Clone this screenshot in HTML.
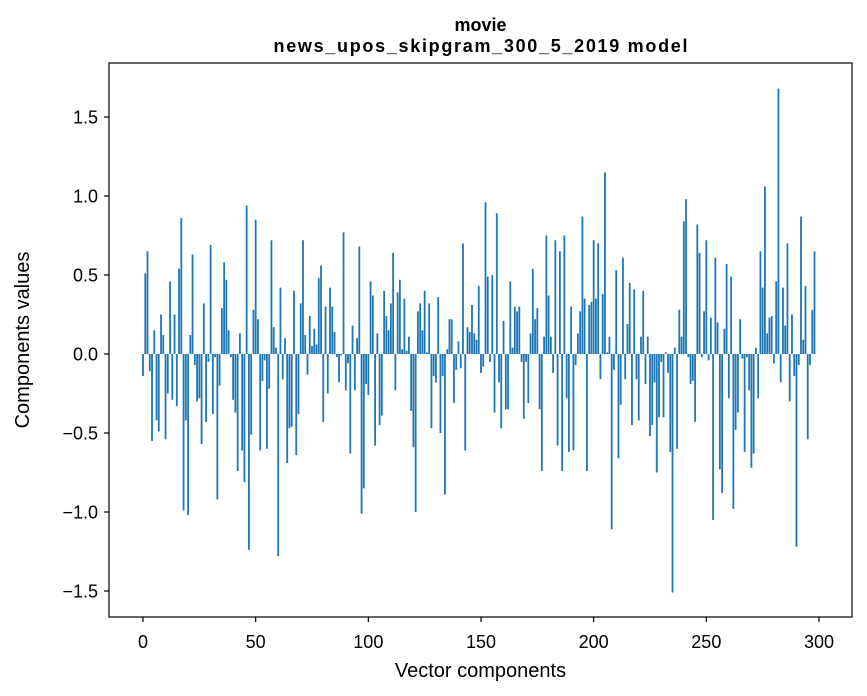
<!DOCTYPE html>
<html><head><meta charset="utf-8"><style>
html,body{margin:0;padding:0;background:#fff;}
svg{display:block;font-family:"Liberation Sans",sans-serif;}
</style></head><body>
<svg id="chart" width="867" height="696" viewBox="0 0 867 696">
<rect x="0" y="0" width="867" height="696" fill="#fff"/>
<text x="480.5" y="31" text-anchor="middle" font-size="18" font-weight="bold">movie</text>
<text x="480.5" y="52" text-anchor="middle" font-size="18" font-weight="bold" textLength="414" lengthAdjust="spacing">news_upos_skipgram_300_5_2019 model</text>
<g id="bars"></g>
<g id="axes"></g>
<rect x="109" y="63" width="743" height="554" fill="none" stroke="#000" stroke-width="1.2"/>
<text x="480.5" y="677" text-anchor="middle" font-size="20">Vector components</text>
<text transform="translate(29,340) rotate(-90)" text-anchor="middle" font-size="20">Components values</text>
</svg>
<script>
var values = [
-0.14,0.51,0.65,-0.11,-0.55,0.15,-0.42,-0.49,0.25,0.12,-0.54,-0.25,0.46,-0.29,0.25,-0.33,0.54,0.86,-0.99,-0.42,-1.02,0.12,0.63,-0.07,-0.3,-0.28,-0.57,0.32,-0.43,-0.05,0.69,-0.38,-0.02,-0.92,
-0.2,0.29,0.58,0.47,0.15,-0.02,-0.29,-0.37,-0.74,0.13,-0.61,-0.81,0.94,-1.24,-0.51,0.28,0.85,0.22,-0.61,-0.17,-0.04,-0.6,-0.22,0.72,0.17,0.04,-1.28,0.42,-0.16,0.1,-0.69,-0.47,
-0.46,0.4,-0.64,-0.38,0.32,0.72,0.12,-0.13,0.24,0.05,0.16,0.06,0.48,0.56,-0.43,0.3,-0.25,0.42,0.3,0.14,-0.02,-0.18,-0.01,0.77,-0.23,-0.06,-0.63,0.18,-0.23,0.1,0.68,-1.01,-0.85,-0.19,-0.26,
0.46,0.37,-0.58,0.13,-0.45,-0.39,0.4,0.24,0.15,0.32,0.64,-0.23,0.39,0.47,0.03,0.35,0.02,0.11,-0.36,-0.59,-1.0,0.27,0.32,0.15,0.4,0.01,0.32,-0.47,-0.14,-0.18,0.36,-0.5,-0.14,
-0.89,0.03,0.22,0.22,-0.31,-0.1,0.08,-0.09,0.7,-0.61,0.17,0.14,0.31,0.13,0.09,0.43,-0.12,-0.08,0.96,0.49,-0.05,0.5,-0.37,0.89,-0.18,-0.47,0.21,-0.35,-0.35,0.46,0.04,0.3,0.27,0.3,
-0.05,-0.41,-0.05,-0.31,0.13,0.54,0.22,0.29,-0.35,-0.74,0.11,0.75,0.37,0.11,-0.12,0.72,-0.58,0.65,-0.74,0.75,-0.28,-0.62,0.3,-0.61,-0.07,0.13,0.27,0.87,0.35,-0.74,0.31,0.33,0.72,
0.35,0.7,-0.16,0.38,1.15,0.01,0.11,-1.11,-0.1,0.53,-0.66,-0.32,0.61,-0.16,0.19,0.45,-0.45,0.41,-0.16,-0.42,0.11,0.4,-0.19,0.11,-0.52,-0.45,-0.18,-0.75,-0.4,-0.05,-0.4,0.01,-0.12,-0.62,
-1.51,0.04,-0.6,0.28,0.11,0.84,0.98,-0.02,-0.19,-0.17,-0.43,0.82,0.64,-0.02,0.27,0.72,-0.04,0.23,-1.05,0.61,0.2,-0.73,-0.88,0.16,0.57,-0.28,0.49,-0.98,-0.48,-0.37,0.22,-0.03,-0.62,-0.02,
-0.23,-0.72,-0.63,0.04,-0.28,0.65,0.42,1.06,0.13,0.23,0.24,-0.06,0.46,1.68,-0.18,0.42,0.18,0.7,-0.3,0.25,-0.14,-1.22,-0.07,0.87,0.09,0.43,-0.54,-0.07,0.28,0.65
];
var xTicks = [0,50,100,150,200,250,300];
var yTicks = [-1.5,-1.0,-0.5,0.0,0.5,1.0,1.5];
var NS = "http://www.w3.org/2000/svg";
function xScale(i){ return 143 + i * (676/300); }
function yScale(v){ return 354 - v * 158; }
var barsG = document.getElementById('bars');
var bw = 0.8 * (676/300);
values.forEach(function(v, i){
  var r = document.createElementNS(NS, 'rect');
  var y0 = yScale(0), y1 = yScale(v);
  r.setAttribute('x', (xScale(i) - bw/2).toFixed(2));
  r.setAttribute('y', Math.min(y0, y1).toFixed(2));
  r.setAttribute('width', bw.toFixed(2));
  r.setAttribute('height', Math.max(0.5, Math.abs(y1 - y0)).toFixed(2));
  r.setAttribute('fill', '#1f77b4');
  
  
  barsG.appendChild(r);
});
var axesG = document.getElementById('axes');
xTicks.forEach(function(t){
  var x = xScale(t);
  var l = document.createElementNS(NS, 'line');
  l.setAttribute('x1', x); l.setAttribute('x2', x);
  l.setAttribute('y1', 617); l.setAttribute('y2', 622);
  l.setAttribute('stroke', '#000'); l.setAttribute('stroke-width', '1.2');
  
  
  axesG.appendChild(l);
  var tx = document.createElementNS(NS, 'text');
  tx.setAttribute('x', x); tx.setAttribute('y', 648);
  tx.setAttribute('text-anchor', 'middle'); tx.setAttribute('font-size', '18');
  tx.textContent = String(t);
  
  
  axesG.appendChild(tx);
});
yTicks.forEach(function(t){
  var y = yScale(t);
  var l = document.createElementNS(NS, 'line');
  l.setAttribute('x1', 104); l.setAttribute('x2', 109);
  l.setAttribute('y1', y); l.setAttribute('y2', y);
  l.setAttribute('stroke', '#000'); l.setAttribute('stroke-width', '1.2');
  
  
  axesG.appendChild(l);
  var tx = document.createElementNS(NS, 'text');
  tx.setAttribute('x', 98); tx.setAttribute('y', y + 6.5);
  tx.setAttribute('text-anchor', 'end'); tx.setAttribute('font-size', '18');
  tx.textContent = (t < 0 ? '\u2212' : '') + Math.abs(t).toFixed(1);
  
  
  axesG.appendChild(tx);
});
</script>
</body></html>
